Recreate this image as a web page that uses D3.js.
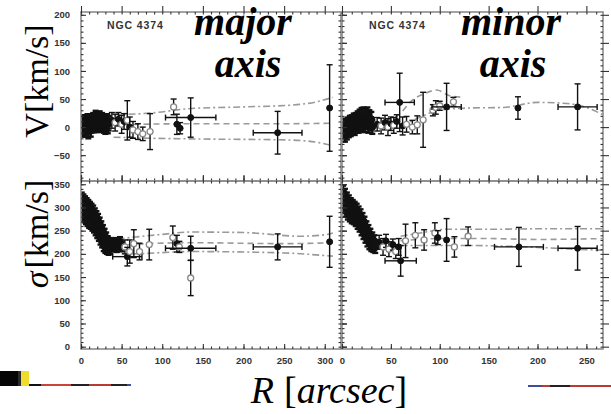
<!DOCTYPE html>
<html lang="en">
<head>
<meta charset="UTF-8">
<title>NGC 4374 - major / minor axis kinematics</title>
<script src="https://d3js.org/d3.v7.min.js"></script>
<style>
  html, body { margin: 0; padding: 0; background: #fff; }
  svg { display: block; }
  .tick text { font-family: "Liberation Sans", Arial, sans-serif; font-size: 9.5px; font-weight: bold; fill: #333; }
</style>
</head>
<body>
<div id="chart"></div>
<script>
// ---- values ----
// cloud points: [R arcsec, value, error]
const majorVCloud = [[1,2,14],[2,-4,13],[3,6,15],[4,0,14],[5,8,13],[6,-2,15],[7,4,14],[8,10,13],[9,-6,14],[10,3,15],[11,7,13],[12,-3,14],[13,5,15],[14,9,14],[15,12,13],[16,6,15],[17,10,14],[18,14,15],[19,8,14],[20,4,13],[21,11,15],[22,7,14],[23,13,15],[24,9,14],[25,5,13],[26,10,15],[27,6,14],[28,3,13],[29,8,15],[30,2,14],[31,5,13],[32,9,14],[33,4,15],[34,7,13]];
const minorVCloud = [[1,-8,12],[2,2,13],[3,-14,12],[4,-2,14],[5,-10,12],[6,4,13],[7,-6,12],[8,6,14],[9,-4,12],[10,8,13],[11,0,12],[12,10,14],[13,-2,12],[14,12,13],[15,2,12],[16,14,14],[17,2,12],[18,18,13],[19,4,12],[20,20,14],[21,6,12],[22,22,13],[23,3,12],[24,18,14],[25,8,12],[26,22,13],[27,2,12],[28,16,14],[29,6,12],[30,14,13],[31,0,12]];
const majorSCloud = [[1,320,12],[2,284,12],[3,316,12],[4,280,12],[5,312,12],[6,276,12],[7,308,12],[8,272,12],[9,304,12],[10,268,12],[11,300,12],[12,266,12],[13,296,12],[14,262,12],[15,292,12],[16,258,12],[17,286,12],[18,252,12],[19,280,12],[20,246,12],[21,274,12],[22,240,12],[23,266,12],[24,232,12],[25,258,12],[26,226,12],[27,250,12],[28,218,12],[29,242,12],[30,214,12],[31,234,12],[32,212,12],[33,226,12],[34,210,12],[35,222,12],[36,212,12],[38,222,10],[40,215,10],[42,224,10],[44,214,10],[46,220,10],[48,226,10],[50,216,10]];
const minorSCloud = [[1,335,12],[2,300,12],[3,328,12],[4,292,12],[5,320,12],[6,286,12],[7,314,12],[8,282,12],[9,308,12],[10,278,12],[11,304,12],[12,276,12],[13,300,12],[14,272,12],[15,296,12],[16,266,12],[17,290,12],[18,260,12],[19,284,12],[20,252,12],[21,276,12],[22,244,12],[23,268,12],[24,236,12],[25,258,12],[26,228,12],[27,250,12],[28,222,12],[29,242,12],[30,218,12],[31,234,12],[32,216,12],[33,228,12],[34,214,12]];

// outer points: [R, value, vertical error, horizontal error, filled (1) or open (0)]
const majorVPoints = [[38,12,14,0,1],[42,8,15,0,0],[46,14,12,0,1],[50,5,16,0,0],[53,10,14,0,1],[57,12,35,0,0],[60,0,18,0,1],[64,-5,15,0,0],[70,-8,14,0,0],[76,-12,12,0,0],[85,-8,32,0,0],[114,36,14,0,0],[118,5,18,0,1],[122,-2,10,0,1],[135,17,35,31,1],[242,-10,38,30,1],[306,34,77,0,1]];
const minorVPoints = [[36,5,12,0,1],[40,2,14,0,0],[44,8,13,0,1],[47,0,15,0,0],[50,6,12,0,1],[53,3,14,0,0],[56,10,12,0,1],[59,44,52,15,1],[62,2,16,0,1],[66,5,14,0,0],[72,0,12,0,0],[77,4,16,0,0],[83,13,49,0,0],[93,30,10,0,0],[96,35,12,0,0],[100,38,8,0,0],[107,36,42,15,1],[114,45,8,0,0],[180,34,20,0,1],[241,36,41,20,1]];
const majorSPoints = [[54,215,15,0,0],[57,194,20,18,1],[60,205,25,0,0],[65,222,30,0,0],[72,205,18,0,0],[84,220,33,0,0],[113,235,25,0,0],[118,222,18,0,1],[121,215,12,0,0],[135,212,26,31,1],[135,148,38,0,0],[242,215,28,30,1],[306,226,55,0,1]];
const minorSPoints = [[38,225,15,0,1],[42,215,18,0,0],[45,228,14,0,1],[48,210,16,0,0],[52,220,12,0,1],[55,205,15,0,0],[58,215,18,0,1],[60,185,33,16,1],[65,228,36,0,0],[75,240,27,0,0],[84,230,22,0,0],[95,245,22,0,0],[98,235,15,0,1],[107,230,46,0,1],[115,215,22,0,0],[129,238,20,0,0],[181,215,42,25,1],[241,212,47,20,1]];

// model curves: [R, value]
const majorVUpper = [[40,22],[86,25],[135,33],[200,36],[258,39],[290,45],[310,53]];
const majorVMid   = [[40,4],[135,6],[250,6],[310,7]];
const majorVLower = [[40,-18],[90,-20],[135,-21],[258,-23],[290,-27],[310,-33]];
const minorVUpper = [[45,10],[60,25],[70,45],[85,60],[97,66],[110,56],[125,53]];
const minorVMid   = [[45,0],[66,7],[80,18],[100,30],[130,34],[165,35],[200,44],[230,42],[250,35],[267,22]];
const majorSUpper = [[45,232],[60,235],[100,242],[135,247],[200,246],[270,238],[300,241],[310,245]];
const majorSMid   = [[45,218],[60,220],[135,224],[250,222],[310,224]];
const majorSLower = [[45,205],[60,200],[135,205],[250,202],[280,199],[310,195]];
const minorSUpper = [[60,238],[80,245],[107,253],[150,253],[200,254],[267,254]];
const minorSMid   = [[60,228],[100,233],[150,233],[200,231],[267,233]];
const minorSLower = [[60,218],[130,218],[200,214],[250,209],[267,208]];

// tick values
const xTicksLeft = [0, 50, 100, 150, 200, 250, 300];
const xTicksRight = [0, 50, 100, 150, 200, 250];
const vTicks = [-50, 0, 50, 100, 150, 200];
const sTicks = [0, 50, 100, 150, 200, 250, 300, 350];

const width = 611, height = 414;
const svg = d3.select("#chart").append("svg")
    .attr("width", width).attr("height", height);

const xLeft = d3.scaleLinear().domain([0, 320]).range([81, 341]);
const xRight = d3.scaleLinear().domain([0, 267]).range([342, 603]);
const yTop = d3.scaleLinear().domain([-96, 205]).range([181, 12]);
const yBot = d3.scaleLinear().domain([-5, 357]).range([349, 181]);

const panels = [
    { id: "p0", x: xLeft, y: yTop, cloud: majorVCloud, pts: majorVPoints, xt: xTicksLeft, yt: vTicks, xLab: false, yLab: true,
      lines: [[majorVUpper, "dd"], [majorVMid, "d"], [majorVLower, "dd"]] },
    { id: "p1", x: xRight, y: yTop, cloud: minorVCloud, pts: minorVPoints, xt: xTicksRight, yt: vTicks, xLab: false, yLab: false,
      lines: [[minorVUpper, "d"], [minorVMid, "dd"]] },
    { id: "p2", x: xLeft, y: yBot, cloud: majorSCloud, pts: majorSPoints, xt: xTicksLeft, yt: sTicks, xLab: true, yLab: true,
      lines: [[majorSUpper, "dd"], [majorSMid, "d"], [majorSLower, "dd"]] },
    { id: "p3", x: xRight, y: yBot, cloud: minorSCloud, pts: minorSPoints, xt: xTicksRight, yt: sTicks, xLab: true, yLab: false,
      lines: [[minorSUpper, "dd"], [minorSMid, "d"], [minorSLower, "dd"]] }
];

const minorTicks = (scale, step) => d3.range(Math.ceil(scale.domain()[0] / step) * step, scale.domain()[1] + 0.01, step);
const noDomain = g => g.select(".domain").remove();

panels.forEach(p => {
    const [x0, x1] = p.x.range();
    const [y0, y1] = p.y.range(); // y0 bottom, y1 top

    svg.append("clipPath").attr("id", "clip-" + p.id)
        .append("rect").attr("x", x0).attr("y", y1).attr("width", x1 - x0).attr("height", y0 - y1);

    const g = svg.append("g");

    // model curves
    const line = d3.line().x(d => p.x(d[0])).y(d => p.y(d[1])).curve(d3.curveMonotoneX);
    g.append("g").attr("clip-path", `url(#clip-${p.id})`)
        .selectAll("path").data(p.lines).enter().append("path")
        .attr("d", d => line(d[0]))
        .attr("fill", "none")
        .attr("stroke", "#9a9a9a")
        .attr("stroke-width", 1.6)
        .attr("stroke-dasharray", d => d[1] === "d" ? "6,4" : "7,3,2,3");

    // data points with error bars; the dense inner cloud is drawn heavier so it merges into a solid patch
    const all = p.cloud.map(d => [d[0], d[1], d[2], 0, 1, 1]).concat(p.pts);
    const pt = g.append("g").attr("clip-path", `url(#clip-${p.id})`)
        .selectAll("g").data(all).enter().append("g")
        .attr("stroke", "#111").attr("stroke-width", d => d[5] ? 2.4 : 1.4);
    pt.append("line")
        .attr("x1", d => p.x(d[0])).attr("x2", d => p.x(d[0]))
        .attr("y1", d => p.y(d[1] - d[2])).attr("y2", d => p.y(d[1] + d[2]));
    pt.selectAll("line.cap").data(d => [[d[0], d[1] - d[2]], [d[0], d[1] + d[2]]]).enter()
        .append("line").attr("class", "cap")
        .attr("x1", d => p.x(d[0]) - 3).attr("x2", d => p.x(d[0]) + 3)
        .attr("y1", d => p.y(d[1])).attr("y2", d => p.y(d[1]));
    const hb = pt.filter(d => d[3] > 0);
    hb.append("line")
        .attr("x1", d => p.x(d[0] - d[3])).attr("x2", d => p.x(d[0] + d[3]))
        .attr("y1", d => p.y(d[1])).attr("y2", d => p.y(d[1]));
    hb.selectAll("line.hcap").data(d => [[d[0] - d[3], d[1]], [d[0] + d[3], d[1]]]).enter()
        .append("line").attr("class", "hcap")
        .attr("x1", d => p.x(d[0])).attr("x2", d => p.x(d[0]))
        .attr("y1", d => p.y(d[1]) - 3).attr("y2", d => p.y(d[1]) + 3);
    pt.append("circle")
        .attr("cx", d => p.x(d[0])).attr("cy", d => p.y(d[1]))
        .attr("r", d => d[5] ? 3.4 : 3)
        .attr("fill", d => d[4] ? "#111" : "#fff")
        .attr("stroke", d => d[4] ? "#111" : "#888")
        .attr("stroke-width", d => d[4] ? 1 : 1.3);

    // frame
    g.append("rect")
        .attr("x", x0).attr("y", y1).attr("width", x1 - x0).attr("height", y0 - y1)
        .attr("fill", "none").attr("stroke", "#8c8c8c").attr("stroke-width", 1.6);

    // ticks on all four sides, major and minor, pointing inwards
    const fmt = d3.format("d");
    const xMin = minorTicks(p.x, 10), yMin = minorTicks(p.y, 10);
    const axes = [
        [d3.axisBottom(p.x).tickValues(p.xt).tickFormat(p.xLab ? fmt : ""), `translate(0,${y0})`, p.xLab ? 8 : 0],
        [d3.axisBottom(p.x).tickValues(xMin).tickFormat("").tickSize(-2.5), `translate(0,${y0})`],
        [d3.axisTop(p.x).tickValues(p.xt).tickFormat(""), `translate(0,${y1})`],
        [d3.axisTop(p.x).tickValues(xMin).tickFormat("").tickSize(-2.5), `translate(0,${y1})`],
        [d3.axisLeft(p.y).tickValues(p.yt).tickFormat(p.yLab ? fmt : ""), `translate(${x0},0)`, p.yLab ? 11 : 0],
        [d3.axisLeft(p.y).tickValues(yMin).tickFormat("").tickSize(-2.5), `translate(${x0},0)`],
        [d3.axisRight(p.y).tickValues(p.yt).tickFormat(""), `translate(${x1},0)`],
        [d3.axisRight(p.y).tickValues(yMin).tickFormat("").tickSize(-2.5), `translate(${x1},0)`]
    ];
    axes.forEach(([ax, tr, pad]) => {
        if (pad !== undefined) ax.tickSize(-5).tickPadding(pad);
        g.append("g").attr("transform", tr).call(ax).call(noDomain)
            .selectAll(".tick line").attr("stroke", "#333").attr("stroke-width", 1.1);
    });
});

// galaxy name
[[107, 29], [369, 29]].forEach(([x, y]) => {
    svg.append("text").attr("x", x).attr("y", y)
        .attr("font-family", "Liberation Sans, Arial, sans-serif")
        .attr("font-size", 10.5).attr("font-weight", "bold")
        .attr("letter-spacing", 0.9).attr("fill", "#333")
        .text("NGC 4374");
});

// panel titles
const titleFont = "Liberation Serif, Times New Roman, serif";
[["major", 243, 35], ["axis", 248, 77], ["minor", 511, 35], ["axis", 513, 77]].forEach(([t, x, y]) => {
    svg.append("text").attr("x", x).attr("y", y)
        .attr("text-anchor", "middle")
        .attr("font-family", titleFont).attr("font-size", 40)
        .attr("font-style", "italic").attr("font-weight", "bold")
        .attr("fill", "#000").text(t);
});

// axis titles
svg.append("text")
    .attr("transform", "translate(48,81) rotate(-90)")
    .attr("text-anchor", "middle")
    .attr("font-family", titleFont).attr("font-size", 34)
    .text("V[km/s]");

const sLab = svg.append("text")
    .attr("transform", "translate(48,234) rotate(-90)")
    .attr("text-anchor", "middle")
    .attr("font-family", titleFont).attr("font-size", 34);
sLab.append("tspan").attr("font-style", "italic").text("σ");
sLab.append("tspan").attr("dx", 3).text("[km/s]");

const rLab = svg.append("text")
    .attr("x", 329).attr("y", 403)
    .attr("text-anchor", "middle")
    .attr("font-family", titleFont).attr("font-size", 38);
rLab.append("tspan").attr("font-style", "italic").text("R");
rLab.append("tspan").attr("dx", 10).text("[");
rLab.append("tspan").attr("font-style", "italic").text("arcsec");
rLab.append("tspan").text("]");

// slide remnants along the bottom edge
const strips = [
    [0, 371, 18, 15, "#050505"], [18, 371, 3, 15, "#2a2a2a"], [21, 371, 8, 15, "#f0dc2c"],
    [29, 384, 12, 2, "#111"], [41, 384, 30, 2, "#c8453a"], [71, 384, 18, 2, "#222"],
    [89, 384, 22, 2, "#b83a34"], [111, 384, 16, 2, "#222"], [127, 384, 4, 2, "#3b4ea0"],
    [528, 385, 14, 2, "#3b4ea0"], [542, 385, 8, 2, "#b83a34"], [550, 385, 20, 2, "#222"],
    [570, 385, 41, 2, "#b83a34"]
];
svg.append("g").selectAll("rect").data(strips).enter().append("rect")
    .attr("x", d => d[0]).attr("y", d => d[1])
    .attr("width", d => d[2]).attr("height", d => d[3])
    .attr("fill", d => d[4]);
</script>
</body>
</html>
